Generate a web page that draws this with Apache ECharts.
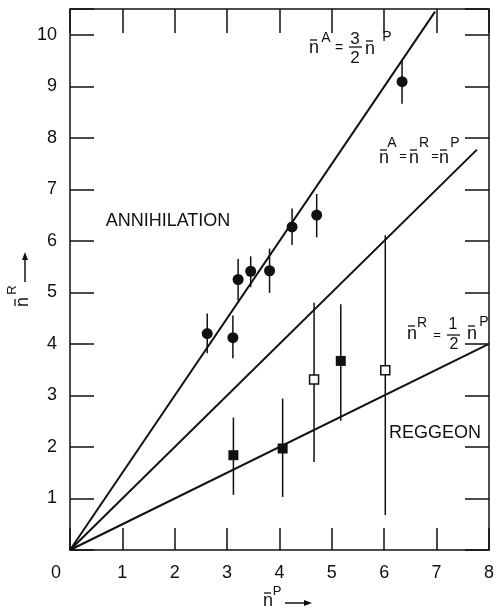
<!DOCTYPE html>
<html>
<head>
<meta charset="utf-8">
<script src="https://cdn.jsdelivr.net/npm/echarts@6/dist/echarts.min.js"></script>
<style>
  html, body { margin: 0; background: #fff; }
  #chart { width: 497px; height: 612px; }
</style>
</head>
<body>
<div id="chart"></div>
<script>
// annihilation points (filled circles)
const annX  = [2.62, 3.11, 3.21, 3.45, 3.81, 4.24, 4.71, 6.34];
const annY  = [4.20, 4.12, 5.25, 5.41, 5.42, 6.27, 6.50, 9.09];
const annLo = [3.82, 3.72, 4.84, 5.10, 4.99, 5.92, 6.07, 8.66];
const annHi = [4.59, 4.55, 5.65, 5.70, 5.85, 6.63, 6.91, 9.52];

// reggeon points, filled squares
const regFX  = [3.12, 4.06, 5.17];
const regFY  = [1.84, 1.97, 3.67];
const regFLo = [1.07, 1.03, 2.51];
const regFHi = [2.57, 2.94, 4.77];

// reggeon points, open squares
const regOX  = [4.66, 6.02];
const regOY  = [3.31, 3.49];
const regOLo = [1.71, 0.68];
const regOHi = [4.80, 6.11];

// reference lines (end points)
const lineA  = [[0, 0], [6.97, 10.45]];  // nA = 3/2 nP
const lineEq = [[0, 0], [7.77, 7.77]];   // nA = nR = nP
const lineR  = [[0, 0], [8, 4]];         // nR = 1/2 nP

const FONT = "'Liberation Sans', Arial, sans-serif";
const INK = '#111';

function errorBars(xs, lo, hi) {
  return {
    type: 'custom',
    silent: true,
    z: 1,
    data: xs.map((x, i) => [x, lo[i], hi[i]]),
    renderItem: function (params, api) {
      const a = api.coord([api.value(0), api.value(1)]);
      const b = api.coord([api.value(0), api.value(2)]);
      return {
        type: 'line',
        shape: { x1: a[0], y1: a[1], x2: b[0], y2: b[1] },
        style: { stroke: INK, lineWidth: 1.5 }
      };
    }
  };
}

function refLine(data) {
  return {
    type: 'line',
    data: data,
    symbol: 'none',
    silent: true,
    z: 2,
    lineStyle: { color: INK, width: 2 }
  };
}

// small text helpers for the annotations
function txt(x, y, s, size, rot) {
  return {
    type: 'text',
    x: x, y: y,
    rotation: rot || 0,
    style: {
      text: s,
      font: size + 'px ' + FONT,
      fill: INK,
      align: 'center', verticalAlign: 'middle',
      textAlign: 'center', textVerticalAlign: 'middle'
    }
  };
}
function bar(x1, x2, y) {
  return { type: 'line', shape: { x1: x1, y1: y, x2: x2, y2: y }, style: { stroke: INK, lineWidth: 1.3 } };
}
// "n" with a bar over it
function nbar(x, y, rot) {
  return {
    type: 'group', x: x, y: y, rotation: rot || 0,
    children: [
      txt(0, 1, 'n', 18),
      { type: 'line', shape: { x1: -4, y1: -7, x2: 3, y2: -7 }, style: { stroke: INK, lineWidth: 1.3 } }
    ]
  };
}

const graphics = [
  // nA = 3/2 nP
  nbar(314, 47), txt(326, 38, 'A', 14), txt(339, 48, '=', 14),
  txt(355, 39, '3', 17), bar(349, 362, 47), txt(355, 58, '2', 17),
  nbar(370, 48), txt(387, 37, 'P', 14),
  // nA = nR = nP
  nbar(384, 157), txt(392, 143, 'A', 14), txt(403, 156, '=', 13),
  nbar(414, 157), txt(424, 143, 'R', 14), txt(435, 156, '=', 13),
  nbar(444, 157), txt(455, 143, 'P', 14),
  // nR = 1/2 nP
  nbar(412, 333), txt(422, 323, 'R', 14), txt(437, 335, '=', 13),
  txt(453, 325, '1', 16), bar(447, 460, 335), txt(454, 345, '2', 16),
  nbar(472, 333), txt(484, 322, 'P', 14),
  // region labels
  txt(168, 221, 'ANNIHILATION', 18),
  txt(435, 433, 'REGGEON', 18),
  // y axis name
  nbar(22, 302, Math.PI / 2), txt(12, 290, 'R', 13, Math.PI / 2),
  { type: 'line', shape: { x1: 25, y1: 282, x2: 25, y2: 258 }, style: { stroke: INK, lineWidth: 1.5 } },
  { type: 'polygon', shape: { points: [[25, 252], [22, 260], [28, 260]] }, style: { fill: INK } },
  // x axis name
  nbar(268, 600), txt(277, 591, 'P', 13),
  { type: 'line', shape: { x1: 285, y1: 603, x2: 306, y2: 603 }, style: { stroke: INK, lineWidth: 1.5 } },
  { type: 'polygon', shape: { points: [[312, 603], [304, 600], [304, 606]] }, style: { fill: INK } }
];

const axisLine = { show: true, onZero: false, lineStyle: { color: INK, width: 1.5 } };
const tickStyle = { color: INK, width: 1.5 };
const labelStyle = { color: INK, fontFamily: FONT, fontSize: 18 };

const option = {
  animation: false,
  backgroundColor: '#fff',
  grid: { left: 70, right: 5, top: 9, bottom: 62 },
  xAxis: [
    {
      type: 'value', position: 'bottom', min: 0, max: 8, interval: 1,
      axisLine: axisLine,
      axisTick: { inside: true, length: 22, lineStyle: tickStyle },
      axisLabel: Object.assign({}, labelStyle, {
        margin: 14,
        formatter: v => (v === 0 ? '{z|0}' : String(v)),
        rich: { z: { fontFamily: FONT, fontSize: 18, color: INK, padding: [0, 28, 0, 0] } }
      }),
      splitLine: { show: false }
    },
    {
      type: 'value', position: 'top', min: 0, max: 8, interval: 1,
      axisLine: axisLine,
      axisTick: { inside: true, length: 24, lineStyle: tickStyle },
      axisLabel: { show: false },
      splitLine: { show: false }
    }
  ],
  yAxis: [
    {
      type: 'value', position: 'left', min: 0, max: 10.5, interval: 1,
      axisLine: axisLine,
      axisTick: { inside: true, length: 24, lineStyle: tickStyle },
      axisLabel: Object.assign({}, labelStyle, {
        margin: 13,
        formatter: v => (v === 0 || v > 10 ? '' : String(v))
      }),
      splitLine: { show: false }
    },
    {
      type: 'value', position: 'right', min: 0, max: 10.5, interval: 1,
      axisLine: axisLine,
      axisTick: { inside: true, length: 24, lineStyle: tickStyle },
      axisLabel: { show: false },
      splitLine: { show: false }
    }
  ],
  series: [
    refLine(lineA),
    refLine(lineEq),
    refLine(lineR),
    errorBars(annX, annLo, annHi),
    errorBars(regFX, regFLo, regFHi),
    errorBars(regOX, regOLo, regOHi),
    {
      name: 'Annihilation', type: 'scatter', z: 3,
      symbol: 'circle', symbolSize: 11,
      itemStyle: { color: INK, opacity: 1 },
      data: annX.map((x, i) => [x, annY[i]])
    },
    {
      name: 'Reggeon', type: 'scatter', z: 3,
      symbol: 'rect', symbolSize: 10,
      itemStyle: { color: INK, opacity: 1 },
      data: regFX.map((x, i) => [x, regFY[i]])
    },
    {
      name: 'Reggeon open', type: 'scatter', z: 3,
      symbol: 'rect', symbolSize: 9,
      itemStyle: { color: '#fff', borderColor: INK, borderWidth: 1.5, opacity: 1 },
      data: regOX.map((x, i) => [x, regOY[i]])
    }
  ],
  graphic: graphics
};

const chart = echarts.init(document.getElementById('chart'));
chart.setOption(option);
</script>
</body>
</html>
